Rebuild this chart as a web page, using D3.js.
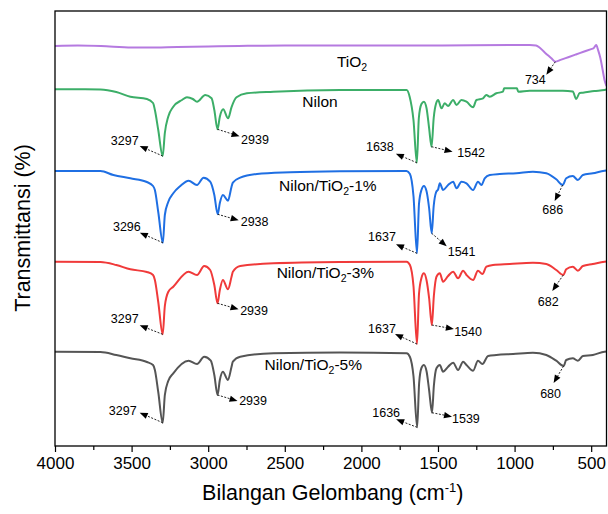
<!DOCTYPE html>
<html>
<head>
<meta charset="utf-8">
<script src="https://cdn.jsdelivr.net/npm/d3@7"></script>
<style>
  html, body { margin: 0; padding: 0; background: #fff; }
  svg { display: block; }
  text { font-family: Arial, "Liberation Sans", sans-serif; fill: #000; }
</style>
</head>
<body>
<svg id="chart" width="608" height="514"></svg>
<script>
// ---------------- DATA ----------------
const seriesNames = ["TiO2", "Nilon", "Nilon/TiO2-1%", "Nilon/TiO2-3%", "Nilon/TiO2-5%"];
const majorTicks = [4000, 3500, 3000, 2500, 2000, 1500, 1000, 500];
const minorTicks = [3750, 3250, 2750, 2250, 1750, 1250, 750];

// [wavenumber (cm-1), transmittance (offset, a.u.)]
const tio2 = [[4000,40.0],[3850,40.05],[3700,40.0],[3500,39.85],[3400,39.85],[3200,39.9],[3000,39.95],
  [2800,40.0],[2500,40.05],[2000,40.05],[1500,40.05],[1000,40.1],[900,40.1],[860,40.05],[800,39.31],
  [760,38.77],[734,38.43],[700,38.61],[650,38.88],[600,39.15],[550,39.42],[500,39.69],[485,39.77],
  [467,40.1],[455,39.6],[440,38.8],[425,37.6],[413,36.6],[400,36.0]];

const nilon = [[4000,35.67],[3850,35.67],[3703,35.65],[3600,35.4],[3508,34.93],[3400,34.7],[3360,34.3],
  [3348,33.6],[3326,31.6],[3297,29.0],[3283,31.3],[3261,32.93],[3228,33.93],[3171,34.6],[3139,34.87],
  [3100,34.7],[3073,34.43],[3019,35.1],[2978,34.77],[2960,33.6],[2939,31.67],[2924,32.93],[2902,33.67],
  [2870,32.77],[2848,33.87],[2815,34.87],[2748,35.27],[2574,35.43],[2140,35.6],[1705,35.6],[1685,34.93],
  [1660,32.6],[1638,28.33],[1625,32.8],[1608,34.2],[1592,34.43],[1575,33.8],[1558,31.8],[1542,29.93],
  [1528,32.8],[1512,34.27],[1499,34.6],[1477,33.77],[1456,34.27],[1434,34.0],[1401,34.6],[1379,34.1],
  [1347,34.6],[1314,34.43],[1271,33.87],[1249,34.6],[1206,34.77],[1184,35.1],[1162,34.93],[1119,35.27],
  [1076,35.43],[1068,35.77],[985,35.77],[976,35.43],[902,35.53],[685,35.53],[620,35.45],[598,34.7],
  [575,35.3],[554,35.33],[480,35.5],[413,35.6],[400,35.65]];

const nilonTi1 = [[4000,27.5],[3703,27.5],[3619,27.1],[3508,26.77],[3400,26.4],[3360,26.0],[3348,25.6],
  [3326,23.4],[3296,20.33],[3283,23.1],[3261,24.4],[3228,25.27],[3182,26.0],[3128,26.53],[3073,26.1],
  [3030,26.83],[2987,26.43],[2960,25.1],[2938,23.17],[2924,24.3],[2904,25.1],[2871,24.53],[2848,25.9],
  [2839,26.33],[2791,26.83],[2682,27.2],[2465,27.37],[2140,27.47],[1705,27.5],[1683,27.2],[1660,25.0],
  [1637,19.27],[1624,24.2],[1608,25.6],[1592,26.0],[1575,25.5],[1558,23.8],[1541,21.27],[1528,24.0],
  [1512,25.4],[1499,25.67],[1488,26.27],[1467,25.6],[1434,26.1],[1401,26.43],[1379,25.77],[1347,26.43],
  [1314,26.27],[1271,25.6],[1239,26.43],[1216,26.1],[1195,26.77],[1162,27.1],[1097,27.2],[988,27.27],
  [880,27.43],[793,27.27],[728,26.67],[686,26.1],[663,26.77],[620,27.0],[587,26.6],[554,27.1],
  [489,27.27],[413,27.53],[400,27.55]];

const nilonTi3 = [[4000,18.43],[3703,18.4],[3600,18.1],[3508,17.67],[3400,17.4],[3360,17.1],[3348,16.6],
  [3326,14.4],[3297,11.17],[3283,14.0],[3261,15.4],[3228,15.93],[3128,17.43],[3073,17.1],[3026,18.0],
  [2987,17.6],[2960,16.1],[2939,14.27],[2924,15.6],[2904,16.6],[2871,15.67],[2848,16.9],[2839,17.43],
  [2791,18.0],[2574,18.27],[2140,18.4],[1705,18.43],[1683,18.1],[1660,16.0],[1637,10.2],[1624,15.2],
  [1608,16.8],[1592,17.27],[1575,16.6],[1558,14.8],[1540,12.1],[1527,15.0],[1510,16.93],[1488,17.27],
  [1467,16.43],[1434,17.0],[1401,17.43],[1369,16.77],[1336,17.53],[1314,17.1],[1271,16.6],[1239,17.53],
  [1210,17.2],[1184,17.93],[1141,18.1],[1032,18.2],[880,18.33],[793,18.2],[728,17.6],[682,17.1],
  [663,17.67],[620,17.93],[587,17.53],[554,18.0],[489,18.2],[413,18.43],[400,18.45]];

const nilonTi5 = [[4000,9.43],[3703,9.4],[3600,9.1],[3508,8.77],[3400,8.4],[3360,8.1],[3348,7.6],
  [3326,5.4],[3297,2.33],[3283,5.1],[3261,6.5],[3228,7.27],[3128,8.53],[3073,8.2],[3026,8.93],
  [2983,8.53],[2960,7.1],[2939,5.1],[2924,6.6],[2904,7.43],[2871,6.6],[2848,7.9],[2839,8.43],
  [2791,8.93],[2574,9.27],[2140,9.35],[1705,9.27],[1683,8.9],[1660,7.0],[1636,1.87],[1623,6.3],
  [1608,7.8],[1592,8.1],[1575,7.5],[1558,5.6],[1539,3.33],[1527,6.0],[1510,7.77],[1488,8.1],
  [1467,7.43],[1434,7.93],[1401,8.33],[1369,7.6],[1336,8.43],[1314,8.1],[1271,7.53],[1239,8.53],
  [1210,8.2],[1173,9.0],[1119,9.1],[1010,9.2],[880,9.33],[793,9.1],[728,8.53],[680,8.0],
  [663,8.6],[620,8.77],[587,8.53],[554,9.0],[489,9.1],[413,9.43],[400,9.45]];

const seriesData = [tio2, nilon, nilonTi1, nilonTi3, nilonTi5];

// peak annotations: [series index, wavenumber]
const peaks = [[0,734],[1,3297],[1,2939],[1,1638],[1,1542],
  [2,3296],[2,2938],[2,1637],[2,1541],[2,686],
  [3,3297],[3,2939],[3,1637],[3,1540],[3,682],
  [4,3297],[4,2939],[4,1636],[4,1539],[4,680]];

// ---------------- LAYOUT / STYLE ----------------
const colors = ["#b57ae0", "#3cae68", "#1f6fe3", "#f03a3a", "#555555"];
// series label anchors in data coords [wn, value]
const labelPos = [[2061,38.4],[2270,34.43],[2219,26.0],[2235,17.3],[2314,8.1]];
// arrow tip offset [dx,dy], label offset [dx,dy], anchor
const peakLayout = [
  [-9,13,-20,18,"middle"],
  [-23,-10,-38,-15,"middle"],[22,7,23.5,10.7,"start"],[-21,-9,-37,-16,"middle"],[21,5,25.7,6,"start"],
  [-23,-10,-36,-16,"middle"],[21,6,23,7.5,"start"],[-21,-9,-35,-17,"middle"],[15,13,16,18,"start"],[-8,16,-10,25,"middle"],
  [-23,-9,-38,-16,"middle"],[21,6,22.6,7.4,"start"],[-22,-10,-35,-15,"middle"],[22,4,22.3,6.7,"start"],[-11,16,-15,27,"middle"],
  [-23,-10,-40,-12,"middle"],[20,6,21.6,6,"start"],[-21,-8,-31,-15,"middle"],[20,4,20,6.3,"start"],[-10,17,-13,28,"middle"]
];

const mLeft = 55, mRight = 606.5, mTop = 11, mBottom = 446;
const svg = d3.select("#chart");

const x = d3.scaleLinear().domain([4000, 400]).range([mLeft, mRight]);
const y = d3.scaleLinear().domain([0, 43.5]).range([mBottom, mTop]);

// lines
const line = d3.line().x(d => x(d[0])).y(d => y(d[1])).curve(d3.curveMonotoneX);
svg.append("clipPath").attr("id", "clip").append("rect")
  .attr("x", mLeft).attr("y", mTop).attr("width", mRight - mLeft).attr("height", mBottom - mTop);

svg.append("g").attr("clip-path", "url(#clip)")
  .selectAll("path").data(seriesData).join("path")
  .attr("d", d => line(d))
  .attr("fill", "none")
  .attr("stroke", (d, i) => colors[i])
  .attr("stroke-width", 2)
  .attr("stroke-linejoin", "round");

// frame
svg.append("rect").attr("x", mLeft).attr("y", mTop)
  .attr("width", mRight - mLeft).attr("height", mBottom - mTop)
  .attr("fill", "none").attr("stroke", "#000").attr("stroke-width", 1.3);

// axes
const axisMajor = d3.axisBottom(x).tickValues(majorTicks).tickFormat(d3.format("d"))
  .tickSize(6).tickSizeOuter(0).tickPadding(5);
const gx = svg.append("g").attr("transform", `translate(0,${mBottom})`).call(axisMajor);
gx.select(".domain").remove();
gx.selectAll("line").attr("stroke", "#000").attr("stroke-width", 1.2);
gx.selectAll("text").attr("font-size", 17).attr("font-family", "Arial, 'Liberation Sans', sans-serif").attr("fill", "#000");

const axisMinor = d3.axisBottom(x).tickValues(minorTicks).tickSize(4).tickFormat("");
const gm = svg.append("g").attr("transform", `translate(0,${mBottom})`).call(axisMinor);
gm.select(".domain").remove();
gm.selectAll("line").attr("stroke", "#000").attr("stroke-width", 1.2);

// axis titles
const xt = svg.append("text").attr("x", (mLeft + mRight) / 2 + 2).attr("y", 500)
  .attr("text-anchor", "middle").attr("font-size", 21.5);
xt.append("tspan").text("Bilangan Gelombang (cm");
xt.append("tspan").text("-1").attr("font-size", 13).attr("dy", -8);
xt.append("tspan").text(")").attr("dy", 8);

svg.append("text").attr("transform", "translate(30,228) rotate(-90)")
  .attr("text-anchor", "middle").attr("font-size", 21.5).text("Transmittansi (%)");

// series labels with subscript 2
seriesNames.forEach((name, i) => {
  const t = svg.append("text").attr("x", x(labelPos[i][0])).attr("y", y(labelPos[i][1]))
    .attr("dy", "0.35em").attr("text-anchor", "middle").attr("font-size", 15.5);
  const parts = name.split("TiO2");
  if (parts.length === 1) { t.text(name); return; }
  t.append("tspan").text(parts[0] + "TiO");
  t.append("tspan").text("2").attr("font-size", 10.5).attr("dy", 4);
  if (parts[1]) t.append("tspan").text(parts[1]).attr("dy", -4);
});

// peak annotations
const ag = svg.append("g");
peaks.forEach((p, k) => {
  const [si, wn] = p;
  const pt = seriesData[si].find(d => d[0] === wn);
  const px = x(pt[0]), py = y(pt[1]);
  const [tdx, tdy, ldx, ldy, anchor] = peakLayout[k];
  const tx = px + tdx, ty = py + tdy;
  const len = Math.hypot(tdx, tdy), ux = tdx / len, uy = tdy / len;
  const hl = 8, hw = 3.2;
  const bx = tx - ux * hl, by = ty - uy * hl;
  ag.append("line").attr("x1", px).attr("y1", py).attr("x2", bx).attr("y2", by)
    .attr("stroke", "#222").attr("stroke-width", 1).attr("stroke-dasharray", "2,1.5");
  ag.append("path")
    .attr("d", `M${tx},${ty}L${bx - uy * hw},${by + ux * hw}L${bx + uy * hw},${by - ux * hw}Z`)
    .attr("fill", "#000");
  ag.append("text").attr("x", px + ldx).attr("y", py + ldy).attr("dy", "0.35em")
    .attr("text-anchor", anchor).attr("font-size", 12.5).text(String(wn));
});
</script>
</body>
</html>
